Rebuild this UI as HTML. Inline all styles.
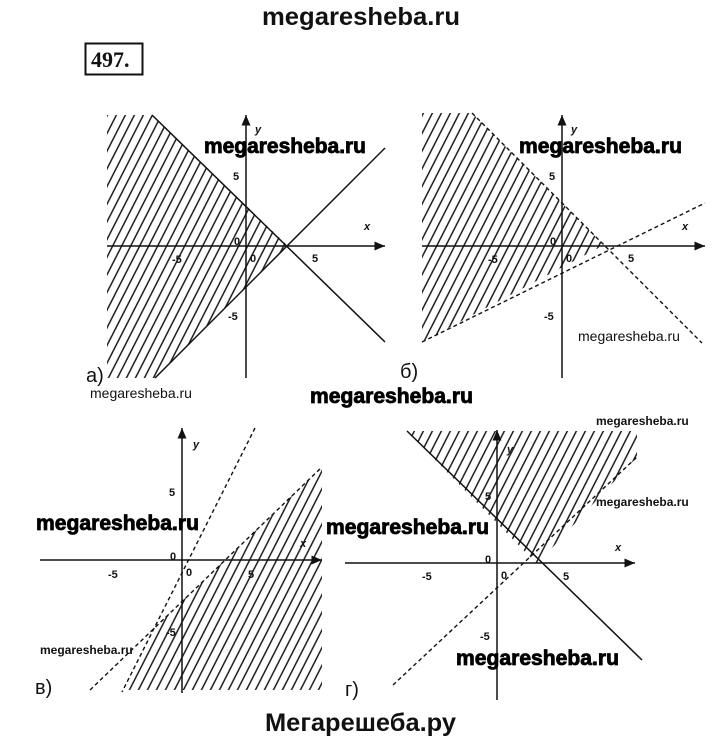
<!DOCTYPE html>
<html><head><meta charset="utf-8"><style>
html,body{margin:0;padding:0;background:#fff;}
svg{display:block;}
text{font-family:"Liberation Sans",sans-serif;}
</style></head><body>
<svg width="720" height="740" viewBox="0 0 720 740" xmlns="http://www.w3.org/2000/svg">
<defs>
<pattern id="h" patternUnits="userSpaceOnUse" width="9" height="18" patternTransform="skewX(-27)">
<line x1="4" y1="0" x2="4" y2="18" stroke="#111" stroke-width="1.6"/>
</pattern>
<marker id="ar" markerWidth="8" markerHeight="8" refX="7" refY="4" orient="auto"><path d="M0,1 L7,4 L0,7" fill="#111"/></marker>
</defs>
<g fill="#111">
<text x="262" y="25" font-size="25" font-weight="bold" textLength="198" lengthAdjust="spacingAndGlyphs">megaresheba.ru</text>
<rect x="85.5" y="43.5" width="57" height="31" fill="none" stroke="#111" stroke-width="2"/>
<text x="91" y="67" font-family="Liberation Serif" font-size="22" font-weight="bold" style="font-family:'Liberation Serif',serif">497.</text>
<text x="265" y="731" font-size="25" font-weight="bold" textLength="191" lengthAdjust="spacingAndGlyphs">Мегарешеба.ру</text>
</g>

<!-- a -->
<polygon points="107,115 152,115 287,245 155,378 107,378" fill="url(#h)"/>
<g stroke="#111" stroke-width="1.5" fill="none">
<line x1="107" y1="246" x2="385" y2="246" marker-end="url(#ar)"/>
<line x1="246" y1="378" x2="246" y2="115" marker-end="url(#ar)"/>
<line x1="152" y1="115" x2="385" y2="342"/>
<line x1="155" y1="378" x2="385" y2="148"/>
</g>
<g font-size="11" fill="#111" font-weight="bold">
<text x="255" y="133" font-style="italic" font-family="Liberation Serif">y</text>
<text x="364" y="230" font-style="italic" font-family="Liberation Serif">x</text>
<text x="233" y="180">5</text><text x="228" y="320">-5</text>
<text x="172" y="263">-5</text><text x="312" y="262">5</text>
<text x="234" y="245">0</text><text x="250" y="262">0</text>
</g>
<text x="86" y="382" font-size="20" fill="#111">а)</text>
<text x="90" y="398" font-size="14" fill="#111">megaresheba.ru</text>

<!-- b -->
<polygon points="422,113 472,113 604,245 422,342" fill="url(#h)"/>
<g stroke="#111" stroke-width="1.5" fill="none">
<line x1="422" y1="246" x2="705" y2="246" marker-end="url(#ar)"/>
<line x1="562" y1="378" x2="562" y2="115" marker-end="url(#ar)"/>
</g>
<g stroke="#111" stroke-width="1.4" fill="none" stroke-dasharray="4,3">
<line x1="472" y1="113" x2="702" y2="343"/>
<line x1="422" y1="342" x2="705" y2="203"/>
</g>
<g font-size="11" fill="#111" font-weight="bold">
<text x="571" y="133" font-style="italic" font-family="Liberation Serif">y</text>
<text x="682" y="230" font-style="italic" font-family="Liberation Serif">x</text>
<text x="549" y="180">5</text><text x="544" y="320">-5</text>
<text x="488" y="263">-5</text><text x="628" y="262">5</text>
<text x="550" y="245">0</text><text x="566" y="262">0</text>
</g>
<text x="400" y="378" font-size="20" fill="#111">б)</text>
<text x="578" y="341" font-size="14" fill="#111">megaresheba.ru</text>

<!-- c -->
<polygon points="322,467 152,630 122,690 322,690" fill="url(#h)"/>
<g stroke="#111" stroke-width="1.5" fill="none">
<line x1="40" y1="560" x2="322" y2="560" marker-end="url(#ar)"/>
<line x1="182" y1="693" x2="182" y2="428" marker-end="url(#ar)"/>
</g>
<g stroke="#111" stroke-width="1.4" fill="none" stroke-dasharray="4,3">
<line x1="255" y1="428" x2="122" y2="692"/>
<line x1="90" y1="690" x2="322" y2="467"/>
</g>
<g font-size="11" fill="#111" font-weight="bold">
<text x="193" y="448" font-style="italic" font-family="Liberation Serif">y</text>
<text x="300" y="547" font-style="italic" font-family="Liberation Serif">x</text>
<text x="169" y="496">5</text><text x="166" y="636">-5</text>
<text x="108" y="578">-5</text><text x="248" y="578">5</text>
<text x="170" y="560">0</text><text x="186" y="576">0</text>
</g>
<text x="35" y="694" font-size="20" fill="#111">в)</text>
<text x="40" y="654" font-size="12" font-weight="bold" fill="#111">megaresheba.ru</text>

<!-- d -->
<polygon points="407,431 637,431 637,457 537,564" fill="url(#h)"/>
<g stroke="#111" stroke-width="1.5" fill="none">
<line x1="345" y1="563" x2="635" y2="563" marker-end="url(#ar)"/>
<line x1="497" y1="700" x2="497" y2="430" marker-end="url(#ar)"/>
<line x1="407" y1="431" x2="642" y2="660"/>
</g>
<g stroke="#111" stroke-width="1.4" fill="none" stroke-dasharray="4,3">
<line x1="393" y1="685" x2="637" y2="457"/>
</g>
<g font-size="11" fill="#111" font-weight="bold">
<text x="507" y="453" font-style="italic" font-family="Liberation Serif">y</text>
<text x="615" y="551" font-style="italic" font-family="Liberation Serif">x</text>
<text x="485" y="500">5</text><text x="480" y="640">-5</text>
<text x="422" y="580">-5</text><text x="563" y="580">5</text>
<text x="485" y="563">0</text><text x="501" y="579">0</text>
</g>
<text x="345" y="696" font-size="20" fill="#111">г)</text>
<text x="596" y="425" font-size="12" font-weight="bold" fill="#111">megaresheba.ru</text>
<text x="596" y="506" font-size="12" font-weight="bold" fill="#111">megaresheba.ru</text>

<!-- big watermarks -->
<g font-size="21" font-weight="bold" fill="#000" stroke="#000" stroke-width="0.8">
<text x="204" y="153" textLength="162" lengthAdjust="spacingAndGlyphs">megaresheba.ru</text>
<text x="519" y="153" textLength="163" lengthAdjust="spacingAndGlyphs">megaresheba.ru</text>
<text x="310" y="403" textLength="163" lengthAdjust="spacingAndGlyphs">megaresheba.ru</text>
<text x="36" y="530" textLength="163" lengthAdjust="spacingAndGlyphs">megaresheba.ru</text>
<text x="326" y="534" textLength="163" lengthAdjust="spacingAndGlyphs">megaresheba.ru</text>
<text x="456" y="665" textLength="163" lengthAdjust="spacingAndGlyphs">megaresheba.ru</text>
</g>
</svg>
</body></html>
